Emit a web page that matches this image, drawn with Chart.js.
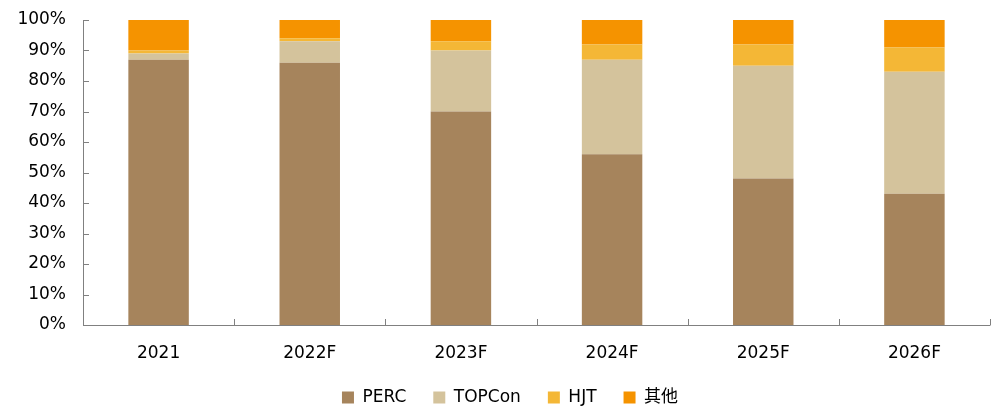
<!DOCTYPE html>
<html>
<head>
<meta charset="utf-8">
<script src="https://cdn.jsdelivr.net/npm/chart.js@4/dist/chart.umd.min.js"></script>
<style>
  body { margin: 0; background: #fff; }
  #wrap { width: 1001px; height: 407px; }
</style>
</head>
<body>
<div id="wrap"><canvas id="myChart" width="1001" height="407"></canvas></div>
<script>
// chart data
const years = ['2021', '2022F', '2023F', '2024F', '2025F', '2026F'];
const perc = [87, 86, 70, 56, 48, 43];
const topcon = [2, 7, 20, 31, 37, 40];
const hjt = [1, 1, 3, 5, 7, 8];
const other = [10, 6, 7, 8, 8, 9];
const yTicks = [0, 10, 20, 30, 40, 50, 60, 70, 80, 90, 100];

const font = "'DejaVu Sans', 'Noto Sans CJK SC', sans-serif";

// little inward tick marks on both axes, like the original
const innerTicks = {
  id: 'innerTicks',
  afterLayout(chart) {
    // legend in the original sits a bit right of centre
    if (chart.legend) chart.legend.left = 30;
  },
  afterDraw(chart) {
    const ctx = chart.ctx;
    const x = chart.scales.x, y = chart.scales.y;
    ctx.save();
    ctx.strokeStyle = '#808080';
    ctx.lineWidth = 1;
    ctx.beginPath();
    // axis lines
    ctx.moveTo(x.left + 0.5, y.top);
    ctx.lineTo(x.left + 0.5, y.bottom + 0.5);
    ctx.lineTo(x.right + 0.5, y.bottom + 0.5);
    yTicks.forEach(v => {
      const py = Math.round(y.getPixelForValue(v)) + 0.5;
      ctx.moveTo(x.left, py);
      ctx.lineTo(x.left + 6, py);
    });
    for (let i = 1; i <= years.length; i++) {
      const px = Math.round(x.getPixelForValue(i - 0.5)) + 0.5;
      ctx.moveTo(px, y.bottom);
      ctx.lineTo(px, y.bottom - 6);
    }
    ctx.stroke();
    ctx.restore();
  }
};

const ctx = document.getElementById('myChart').getContext('2d');
new Chart(ctx, {
  type: 'bar',
  data: {
    labels: years,
    datasets: [
      { label: 'PERC', data: perc, backgroundColor: '#A6845C' },
      { label: 'TOPCon', data: topcon, backgroundColor: '#D4C39C' },
      { label: 'HJT', data: hjt, backgroundColor: '#F4B736' },
      { label: '其他', data: other, backgroundColor: '#F59300' },
    ],
  },
  options: {
    responsive: false,
    animation: false,
    layout: { padding: { left: 0, right: 11, top: 20, bottom: -9 } },
    datasets: { bar: { barPercentage: 0.4, categoryPercentage: 1 } },
    scales: {
      x: {
        stacked: true,
        grid: { display: false, drawTicks: false },
        border: { display: false },
        ticks: { color: '#000', font: { family: font, size: 17 }, padding: 18 },
        afterFit(scale) {
          scale.height = 37;
          scale.paddingLeft = 0;
          scale.paddingRight = 0;
        },
      },
      y: {
        stacked: true,
        min: 0,
        max: 100,
        grid: { display: false, drawTicks: false },
        border: { display: false },
        ticks: {
          stepSize: 10,
          color: '#000',
          font: { family: font, size: 17 },
          padding: 17,
          callback: v => v + '%',
        },
        afterFit(scale) {
          scale.width = 83;
          scale.paddingTop = 0;
          scale.paddingBottom = 0;
        },
      },
    },
    plugins: {
      legend: {
        position: 'bottom',
        labels: {
          color: '#000',
          font: { family: font, size: 17 },
          boxWidth: 12,
          boxHeight: 12,
          padding: 27,
        },
      },
      tooltip: { enabled: false },
    },
  },
  plugins: [innerTicks],
});
</script>
</body>
</html>
